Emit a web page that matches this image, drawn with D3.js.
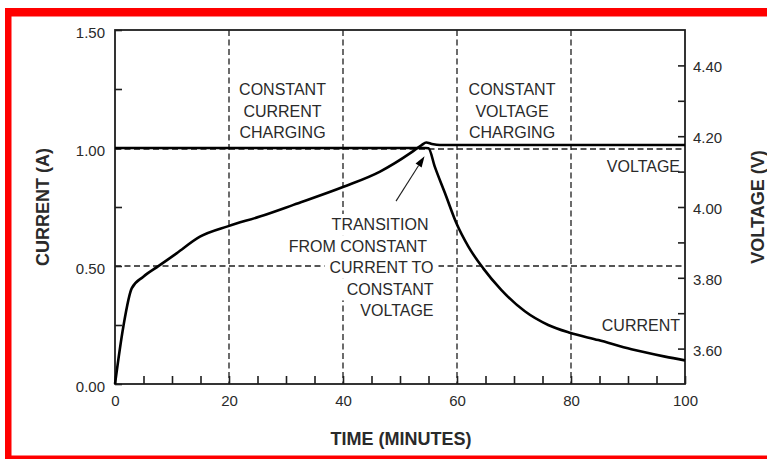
<!DOCTYPE html>
<html><head><meta charset="utf-8">
<script src="https://cdn.jsdelivr.net/npm/d3@7"></script>
<style>
html,body{margin:0;padding:0;background:#fff;}
svg{display:block;}
text{font-family:"Liberation Sans",Arial,Helvetica,sans-serif;fill:#2a2a2a;}
</style></head>
<body><svg id="chart" width="767" height="459"></svg>
<script>
// ---- data ----
const timeTicks = [0, 20, 40, 60, 80, 100];
const timeMinorTicks = [0,5,10,15,20,25,30,35,40,45,50,55,60,65,70,75,80,85,90,95,100];
const gridTimes = [20, 40, 60, 80];
const currentTickLabels = ["0.00", "0.50", "1.00", "1.50"];
const currentMinorTicks = [0.25, 0.75, 1.25];
const gridCurrents = [0.5, 1.0];
const voltageTickLabels = ["3.60", "3.80", "4.00", "4.20", "4.40"];
const voltageMinorTicks = [3.7, 3.9, 4.1, 4.3];

// voltage curve (V) vs time (min)
const voltTime  = [0, 1.46, 2.93, 4.97, 7.6, 10.8, 14.9, 19.9, 25.4, 31.3, 40.1, 46.5, 51.8, 53.8, 54.6, 55.6, 57, 100];
const voltValue = [3.500, 3.662, 3.770, 3.803, 3.833, 3.869, 3.916, 3.946, 3.973, 4.006, 4.057, 4.100, 4.152, 4.175, 4.182, 4.178, 4.175, 4.175];
// current curve (A) vs time (min)
const currTime  = [0, 54.5, 55.0, 56.1, 57.9, 59.9, 62.0, 64.6, 67.8, 71.9, 76.0, 79.8, 84.8, 90.6, 96.5, 100];
const currValue = [1.000, 1.000, 0.999, 0.921, 0.808, 0.681, 0.582, 0.490, 0.398, 0.308, 0.250, 0.217, 0.186, 0.147, 0.116, 0.100];

const phaseLabels = [["CONSTANT", "CURRENT", "CHARGING"], ["CONSTANT", "VOLTAGE", "CHARGING"]];
const transitionLabel = ["TRANSITION", "FROM CONSTANT", "CURRENT TO", "CONSTANT", "VOLTAGE"];

// ---- layout ----
const svg = d3.select("#chart");
const L = 115, R = 685, T = 30, B = 384;
const x = d3.scaleLinear().domain([0, 100]).range([L, R]);
const yA = d3.scaleLinear().domain([0, 1.5]).range([B, T]);
const yV = d3.scaleLinear().domain([3.5, 4.5]).range([B, T]);
const ink = "#1e1e1e";

// red frame
svg.append("rect").attr("x", 5).attr("y", 8).attr("width", 762).attr("height", 8.5).attr("fill", "#ff0000");
svg.append("rect").attr("x", 5).attr("y", 8).attr("width", 6.5).attr("height", 451).attr("fill", "#ff0000");
svg.append("rect").attr("x", 5).attr("y", 455.5).attr("width", 762).attr("height", 4).attr("fill", "#ff0000");

// dashed grid
const dash = "6,3.5";
svg.append("g").selectAll("line").data(gridTimes).join("line")
  .attr("x1", d => x(d)).attr("x2", d => x(d)).attr("y1", T).attr("y2", B)
  .attr("stroke", ink).attr("stroke-width", 1.3).attr("stroke-dasharray", dash);
svg.append("g").selectAll("line").data(gridCurrents).join("line")
  .attr("x1", L).attr("x2", R).attr("y1", d => yA(d) + (d === 1 ? 1 : 0)).attr("y2", d => yA(d) + (d === 1 ? 1 : 0))
  .attr("stroke", ink).attr("stroke-width", 1.3).attr("stroke-dasharray", dash);

// transition annotation text with white backgrounds
const tg = svg.append("g");
const tEnds = [428.5, 427, 433.5, 433.5, 433.5];
transitionLabel.forEach((s, i) => {
  const yb = 230 + i * 21.6;
  const t = tg.append("text").attr("x", tEnds[i]).attr("y", yb).attr("text-anchor", "end")
    .attr("font-size", 16).text(s);
  const bb = t.node().getBBox();
  tg.insert("rect", "text").attr("x", bb.x - 5).attr("y", yb - 16).attr("width", bb.width + 10).attr("height", 21.6)
    .attr("fill", "#fff");
});

// axes (inward ticks)
function styleAxis(g) {
  g.select(".domain").remove();
  g.selectAll(".tick line").attr("stroke", ink).attr("stroke-width", 1.6);
  g.selectAll("text").attr("font-size", 15).attr("fill", "#2a2a2a").attr("font-family", null);
}
svg.append("g").attr("transform", `translate(0,${B})`)
  .call(d3.axisBottom(x).tickValues(timeMinorTicks).tickSize(-8).tickFormat(""))
  .call(styleAxis);
svg.append("g").attr("transform", `translate(0,${B})`)
  .call(d3.axisBottom(x).tickValues(timeTicks).tickSize(0).tickPadding(0).tickFormat(d3.format("d")))
  .call(styleAxis)
  .call(g => g.selectAll("text").attr("y", 22).attr("dy", 0));
svg.append("g").attr("transform", `translate(${L},0)`)
  .call(d3.axisLeft(yA).tickValues(currentMinorTicks.concat(currentTickLabels.map(Number))).tickSize(-7).tickFormat(""))
  .call(styleAxis);
svg.append("g").attr("transform", `translate(${L},0)`)
  .call(d3.axisLeft(yA).tickValues(currentTickLabels.map(Number)).tickSize(0).tickPadding(10).tickFormat(d3.format(".2f")))
  .call(styleAxis)
  .call(g => g.selectAll("text").attr("dy", "0.47em"));
svg.append("g").attr("transform", `translate(${R},0)`)
  .call(d3.axisRight(yV).tickValues(voltageMinorTicks.concat(voltageTickLabels.map(Number))).tickSize(-7).tickFormat(""))
  .call(styleAxis);
svg.append("g").attr("transform", `translate(${R},0)`)
  .call(d3.axisRight(yV).tickValues(voltageTickLabels.map(Number)).tickSize(0).tickPadding(8).tickFormat(d3.format(".2f")))
  .call(styleAxis)
  .call(g => g.selectAll("text").attr("dy", "0.43em"));

// frame
svg.append("rect").attr("x", L).attr("y", T).attr("width", R - L).attr("height", B - T)
  .attr("fill", "none").attr("stroke", ink).attr("stroke-width", 1.8);

// curves
const vLine = d3.line().x((d, i) => x(voltTime[i])).y(d => yV(d)).curve(d3.curveMonotoneX);
const cLine = d3.line().x((d, i) => x(currTime[i])).y(d => yA(d)).curve(d3.curveMonotoneX);
svg.append("path").attr("d", cLine(currValue)).attr("fill", "none").attr("stroke", "#000").attr("stroke-width", 2.6)
  .attr("stroke-linejoin", "round");
svg.append("path").attr("d", vLine(voltValue)).attr("fill", "none").attr("stroke", "#000").attr("stroke-width", 2.6)
  .attr("stroke-linejoin", "round");

// arrow
const tip = [x(54.3), yA(0.965)], tail = [x(49.3), yA(0.775)];
const ang = Math.atan2(tip[1] - tail[1], tip[0] - tail[0]);
const hl = 11, hw = 3.6;
const base = [tip[0] - hl * Math.cos(ang), tip[1] - hl * Math.sin(ang)];
svg.append("line").attr("x1", tail[0]).attr("y1", tail[1]).attr("x2", base[0]).attr("y2", base[1])
  .attr("stroke", ink).attr("stroke-width", 1.1);
svg.append("path").attr("d", `M${tip[0]},${tip[1]}L${base[0] - hw * Math.sin(ang)},${base[1] + hw * Math.cos(ang)}L${base[0] + hw * Math.sin(ang)},${base[1] - hw * Math.cos(ang)}Z`)
  .attr("fill", "#000");

// phase labels
const phaseCenters = [282.5, 512];
phaseLabels.forEach((lines, k) => {
  lines.forEach((s, i) => {
    svg.append("text").attr("x", phaseCenters[k]).attr("y", 95 + i * 21.5).attr("text-anchor", "middle")
      .attr("font-size", 16).text(s);
  });
});

// series labels
svg.append("text").attr("x", 680).attr("y", 171.5).attr("text-anchor", "end").attr("font-size", 16).text("VOLTAGE");
svg.append("text").attr("x", 680).attr("y", 331).attr("text-anchor", "end").attr("font-size", 16).text("CURRENT");

// axis titles
svg.append("text").attr("x", (L + R) / 2 + 1).attr("y", 444.5).attr("text-anchor", "middle")
  .attr("font-size", 18).attr("font-weight", "bold").attr("fill", "#111").text("TIME (MINUTES)");
svg.append("text").attr("transform", `translate(48.5,${(T + B) / 2}) rotate(-90)`).attr("text-anchor", "middle")
  .attr("font-size", 18).attr("font-weight", "bold").attr("fill", "#111").text("CURRENT (A)");
svg.append("text").attr("transform", `translate(763.5,${(T + B) / 2}) rotate(-90)`).attr("text-anchor", "middle")
  .attr("font-size", 18).attr("font-weight", "bold").attr("fill", "#111").text("VOLTAGE (V)");
</script></body></html>
